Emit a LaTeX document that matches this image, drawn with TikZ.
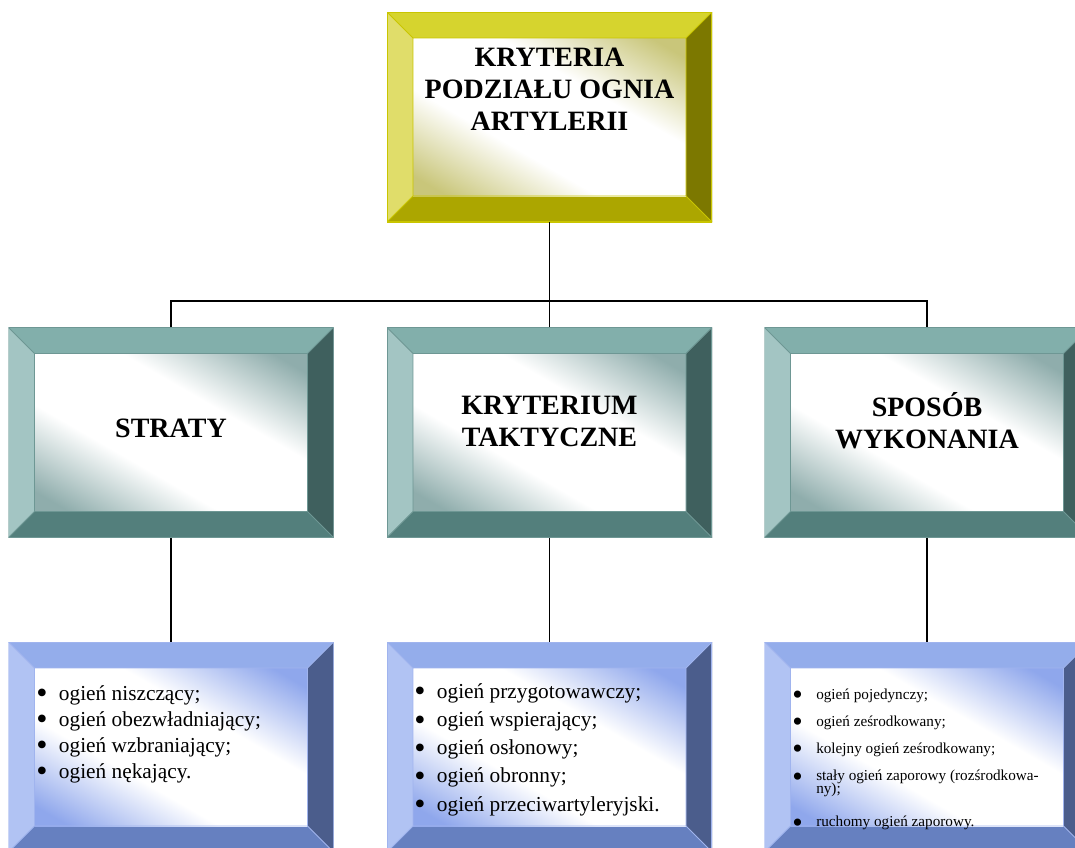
\documentclass[tikz,border=0pt]{standalone}
\usepackage{fontspec}
\setmainfont{Liberation Serif}
\usetikzlibrary{calc}
% yellow
\definecolor{ytop}{HTML}{D6D42E}\definecolor{yleft}{HTML}{E0DD6A}
\definecolor{ybot}{HTML}{ACA600}\definecolor{yright}{HTML}{7C7800}
\definecolor{yline}{HTML}{C9C500}\definecolor{ytint}{HTML}{C9C67A}
% teal
\definecolor{ttop}{HTML}{82AFAB}\definecolor{tleft}{HTML}{A3C5C3}
\definecolor{tbot}{HTML}{537F7C}\definecolor{tright}{HTML}{3F605E}
\definecolor{tline}{HTML}{6E9794}\definecolor{ttint}{HTML}{8FADAC}
% blue
\definecolor{btop}{HTML}{94ADEB}\definecolor{bleft}{HTML}{B1C3F3}
\definecolor{bbot}{HTML}{6680C0}\definecolor{bright}{HTML}{4B5D8C}
\definecolor{bline}{HTML}{A0B4EE}\definecolor{btint}{HTML}{8FA7EC}
\pgfdeclarehorizontalshading{ydiag}{100bp}{color(0bp)=(ytint); color(20bp)=(ytint); color(39bp)=(white); color(61bp)=(white); color(80bp)=(ytint); color(100bp)=(ytint)}
\pgfdeclarehorizontalshading{tdiag}{100bp}{color(0bp)=(ttint); color(20bp)=(ttint); color(39bp)=(white); color(61bp)=(white); color(80bp)=(ttint); color(100bp)=(ttint)}
\pgfdeclarehorizontalshading{bdiag}{100bp}{color(0bp)=(btint); color(20bp)=(btint); color(39bp)=(white); color(61bp)=(white); color(80bp)=(btint); color(100bp)=(btint)}
\newcommand\bul[1]{\makebox[#1][l]{\fontsize{16}{10}\selectfont\raisebox{-0.17em}{\scalebox{1.5}{\textbullet}}}}
\newcommand\sbul[1]{\makebox[#1][l]{\fontsize{16}{10}\selectfont\raisebox{-0.24em}{\scalebox{1.4}{\textbullet}}}}
\newcommand\tightlines{\lineskiplimit=-20pt\relax}
\newcommand\smallfont{\fontsize{11.4}{9.75}\selectfont\tightlines}
\begin{document}
\begin{tikzpicture}[x=0.75pt,y=-0.75pt,
  bevbox/.style={rectangle, inner sep=0pt, minimum width=243.75pt, minimum height=157.5pt,
    path picture={
      \coordinate (pA) at (path picture bounding box.north west);
      \coordinate (pB) at (path picture bounding box.north east);
      \coordinate (pC) at (path picture bounding box.south east);
      \coordinate (pD) at (path picture bounding box.south west);
      \coordinate (qa) at ($(pA)+(26,26)$);
      \coordinate (qb) at ($(pB)+(-26,26)$);
      \coordinate (qc) at ($(pC)+(-26,-26)$);
      \coordinate (qd) at ($(pD)+(26,-26)$);
      \fill[#1top] (pA)--(pB)--(qb)--(qa)--cycle;
      \fill[#1left] (pA)--(qa)--(qd)--(pD)--cycle;
      \fill[#1bot] (pD)--(qd)--(qc)--(pC)--cycle;
      \fill[#1right] (pB)--(pC)--(qc)--(qb)--cycle;
      \shade[shading=#1diag, shading angle=60] (qa) rectangle (qc);
      \draw[#1line, line width=0.6pt] (qa) rectangle (qc) (pA)--(qa) (pB)--(qb) (pC)--(qc) (pD)--(qd);
      \draw[#1line, line width=1.2pt] (pA) rectangle (pC);
    }},
  head/.style={font=\bfseries\fontsize{21}{24}\selectfont, align=center, inner sep=0pt},
  list/.style={font=\fontsize{16}{19.5}\selectfont, align=left, inner sep=0pt, anchor=north west},
  small/.style={font=\smallfont, align=left, inner sep=0pt, anchor=north west},
  conn/.style={line width=1.4pt, black}]
\useasboundingbox (0,0) rectangle (1075,847);
\clip (0,0) rectangle (1075,847);

\node[bevbox=y] (t) at (549.5,117) {};
\node[bevbox=t] (m1) at (171,432.5) {};
\node[bevbox=t] (m2) at (549.5,432.5) {};
\node[bevbox=t] (m3) at (927,432.5) {};
\node[bevbox=b] (b1) at (171,747) {};
\node[bevbox=b] (b2) at (549.5,747) {};
\node[bevbox=b] (b3) at (927,747) {};

\coordinate (bus) at (549.5,301);
\draw[conn] (t.south) -- (bus);
\draw[conn] (m1.north) |- (bus) -| (m3.north);
\draw[conn] (bus) -- (m2.north);
\draw[conn] (m1.south) -- (b1.north);
\draw[conn] (m2.south) -- (b2.north);
\draw[conn] (m3.south) -- (b3.north);

\node[head] (tt) at (549.5,89) {KRYTERIA\\PODZIAŁU OGNIA\\ARTYLERII};
\node[head] (m1t) at (171,428) {STRATY};
\node[head] (m2t) at (549.5,421) {KRYTERIUM\\TAKTYCZNE};
\node[head] (m3t) at (927,421) {SPOSÓB\\WYKONANIA};

\node[list] (b1t) at (36,685) {\bul{17pt}ogień niszczący;\\\bul{17pt}ogień obezwładniający;\\\bul{17pt}ogień wzbraniający;\\\bul{17pt}ogień nękający.};
\node[list, font=\fontsize{16}{21.2}\selectfont] (b2t) at (414,683) {\bul{17pt}ogień przygotowawczy;\\\bul{17pt}ogień wspierający;\\\bul{17pt}ogień osłonowy;\\\bul{17pt}ogień obronny;\\\bul{17pt}ogień przeciwartyleryjski.};
\node[small] (b3t) at (792,689) {\sbul{18pt}ogień pojedynczy;\\[10.4pt]
\sbul{18pt}ogień ześrodkowany;\\[10.4pt]
\sbul{18pt}kolejny ogień ześrodkowany;\\[10.8pt]
\sbul{18pt}stały ogień zaporowy (rozśrodkowa-\\\hspace*{18pt}ny);\\[15pt]
\sbul{18pt}ruchomy ogień zaporowy.};
\end{tikzpicture}
\end{document}
